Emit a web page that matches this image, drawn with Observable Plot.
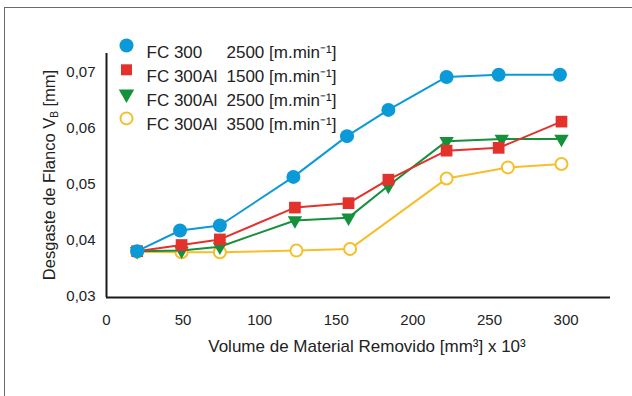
<!DOCTYPE html>
<html>
<head>
<meta charset="utf-8">
<script src="https://cdn.jsdelivr.net/npm/d3@7"></script>
<script src="https://cdn.jsdelivr.net/npm/@observablehq/plot@0.6"></script>
<style>
  html, body { margin: 0; padding: 0; background: #fff; overflow: hidden; }
  #wrap { position: relative; width: 632px; height: 396px; }
  #border { position: absolute; left: 4px; top: 7px; width: 700px; height: 500px; border: 1px solid #6a6a6a; box-sizing: border-box; }
  #chart { position: absolute; left: 0; top: 0; }
  svg { font-family: "Liberation Sans", Arial, sans-serif; }
</style>
</head>
<body>
<div id="wrap"><div id="border"></div><div id="chart"></div></div>
<script>
// ---- data ----
const seriesNames = ["FC 300", "FC 300Al", "FC 300Al", "FC 300Al"];
const seriesSpeeds = ["2500 [m.min⁻¹]", "1500 [m.min⁻¹]", "2500 [m.min⁻¹]", "3500 [m.min⁻¹]"];
const xBlue   = [20, 48, 74, 122, 157, 184, 222, 256, 296];
const yBlue   = [0.0380, 0.0417, 0.0426, 0.0513, 0.0586, 0.0633, 0.0692, 0.0696, 0.0696];
const xRed    = [20, 49, 74, 123, 158, 184, 222, 256, 297];
const yRed    = [0.0380, 0.0391, 0.0401, 0.0458, 0.0466, 0.0508, 0.0560, 0.0565, 0.0612];
const xGreen  = [20, 49, 74, 123, 158, 184, 222, 258, 297];
const yGreen  = [0.0380, 0.0381, 0.0388, 0.0435, 0.0440, 0.0497, 0.0577, 0.0581, 0.0581];
const xYellow = [20, 49, 74, 124, 159, 222, 262, 297];
const yYellow = [0.0379, 0.0378, 0.0378, 0.0381, 0.0384, 0.0510, 0.0530, 0.0536];
const xTicks = [0, 50, 100, 150, 200, 250, 300];
const yTicks = [0.03, 0.04, 0.05, 0.06, 0.07];
const xLabel = "Volume de Material Removido [mm³] x 10³";

const colors = ["#0b9ad8", "#e3312c", "#15913c", "#f6bf2a"];

const toRows = (xs, ys) => xs.map((x, i) => ({x, y: ys[i]}));
const blue = toRows(xBlue, yBlue);
const red = toRows(xRed, yRed);
const green = toRows(xGreen, yGreen);
const yellow = toRows(xYellow, yYellow);

// downward triangle symbol
const triangleDown = {
  draw(context, size) {
    const s = Math.sqrt(size) * 1.25;
    const h = s * Math.sqrt(3) / 2;
    context.moveTo(0, h * 2 / 3);
    context.lineTo(s / 2, -h / 3);
    context.lineTo(-s / 2, -h / 3);
    context.closePath();
  }
};

const legendRows = seriesNames.map((n, i) => ({i, name: n, speed: seriesSpeeds[i]}));
const legendSymbols = ["circle", "square", triangleDown, "circle"];
const legendFill = [colors[0], colors[1], colors[2], "white"];
const legendStroke = ["none", "none", "none", colors[3]];
const rowStep = 24.3;

const marks = [
  Plot.line(yellow, {x: "x", y: "y", stroke: colors[3], strokeWidth: 2}),
  Plot.dot(yellow, {x: "x", y: "y", r: 6, fill: "white", stroke: colors[3], strokeWidth: 2}),
  Plot.line(green, {x: "x", y: "y", stroke: colors[2], strokeWidth: 2}),
  Plot.dot(green, {x: "x", y: "y", r: 6.5, symbol: triangleDown, fill: colors[2], stroke: "none"}),
  Plot.line(red, {x: "x", y: "y", stroke: colors[1], strokeWidth: 2}),
  Plot.dot(red, {x: "x", y: "y", r: 6.6, symbol: "square", fill: colors[1], stroke: "none"}),
  Plot.line(blue, {x: "x", y: "y", stroke: colors[0], strokeWidth: 2}),
  Plot.dot(blue, {x: "x", y: "y", r: 7, fill: colors[0], stroke: "none"}),
  Plot.ruleX([0], {stroke: "#1a1a1a", strokeWidth: 2}),
  Plot.ruleY([0.0297], {stroke: "#1a1a1a", strokeWidth: 2}),
  Plot.axisX(xTicks, {tickSize: 0, tickPadding: 17, fontSize: 15, fill: "#222", label: null}),
  Plot.axisY(yTicks, {tickSize: 0, tickPadding: 11, fontSize: 15, fill: "#222", label: null,
    tickFormat: d => d3.format(".2f")(d).replace(".", ",")})
];

for (const r of legendRows) {
  const dy = -8 + r.i * rowStep;
  marks.push(Plot.dot([r], {
    frameAnchor: "top-left", dx: 20, dy,
    r: r.i === 3 ? 6 : (r.i === 1 ? 6.2 : 7), symbol: legendSymbols[r.i], fill: legendFill[r.i],
    stroke: legendStroke[r.i], strokeWidth: 2
  }));
  marks.push(Plot.text([r], {frameAnchor: "top-left", text: "name", dx: 40, dy, textAnchor: "start", fontSize: 17, fill: "#222"}));
  marks.push(Plot.text([r], {frameAnchor: "top-left", text: "speed", dx: 120, dy, textAnchor: "start", fontSize: 17, fill: "#222"}));
}

const chart = Plot.plot({
  width: 632,
  height: 396,
  marginLeft: 106,
  marginRight: 22,
  marginTop: 53,
  marginBottom: 99,
  x: {domain: [0, 329]},
  y: {domain: [0.0297, 0.0734]},
  style: {background: "transparent", overflow: "visible", fontFamily: "Liberation Sans, Arial, sans-serif"},
  marks
});
document.getElementById("chart").appendChild(chart);

// axis titles (with sub/superscripts as real text)
const svg = d3.select(chart);
const ys = chart.scale("y");
svg.append("text")
  .attr("x", 367).attr("y", 352)
  .attr("text-anchor", "middle").attr("font-size", 17).attr("fill", "#222")
  .attr("font-family", "Liberation Sans, Arial, sans-serif")
  .text(xLabel);
const yt = svg.append("text")
  .attr("transform", `translate(55, ${(ys.range[0] + ys.range[1]) / 2}) rotate(-90)`)
  .attr("text-anchor", "middle").attr("font-size", 16.5).attr("fill", "#222")
  .attr("font-family", "Liberation Sans, Arial, sans-serif");
yt.append("tspan").text("Desgaste de Flanco V");
yt.append("tspan").attr("font-size", 10).attr("dy", 3).text("B");
yt.append("tspan").attr("dy", -3).text(" [mm]");
</script>
</body>
</html>
